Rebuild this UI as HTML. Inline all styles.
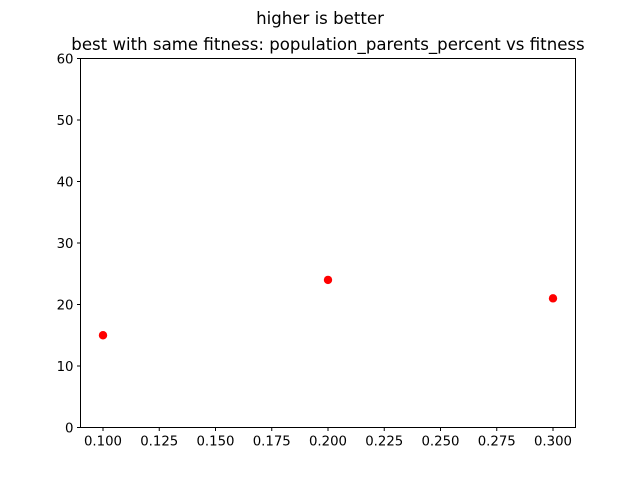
<!DOCTYPE html>
<html><head><meta charset="utf-8"><style>body{margin:0;background:#fff}svg{display:block;font-family:"DejaVu Sans","Liberation Sans",sans-serif}</style></head>
<body>
<svg id="chart" width="640" height="480">
<text x="320" y="24" text-anchor="middle" font-size="16.6">higher is better</text>
<text x="328" y="50" text-anchor="middle" font-size="16.6">best with same fitness: population_parents_percent vs fitness</text>
<g id="ticks"></g>
<g id="marks"></g>
<rect x="80.5" y="58.5" width="495" height="369" fill="none" stroke="#000" stroke-width="1"/>
</svg>
<script>
const xValues = [0.1, 0.2, 0.3];
const yValues = [15, 24, 21];
const xTicks = [0.1, 0.125, 0.15, 0.175, 0.2, 0.225, 0.25, 0.275, 0.3];
const xTickLabels = ["0.100","0.125","0.150","0.175","0.200","0.225","0.250","0.275","0.300"];
const yTicks = [0, 10, 20, 30, 40, 50, 60];
const NS = "http://www.w3.org/2000/svg";
const X0 = 80.5, X1 = 575.5, Y0 = 427.5, Y1 = 58.5;
const xMin = 0.09, xMax = 0.31, yMin = 0, yMax = 60;
const sx = v => X0 + (v - xMin) / (xMax - xMin) * (X1 - X0);
const sy = v => Y0 - (v - yMin) / (yMax - yMin) * (Y0 - Y1);
function mk(tag, attrs, parent){const e=document.createElementNS(NS,tag);for(const k in attrs)e.setAttribute(k,attrs[k]);parent.appendChild(e);return e;}
const tg = document.getElementById('ticks');
xTicks.forEach((t,i)=>{
  const l = mk('line',{x1:sx(t),x2:sx(t),y1:Y0,y2:Y0+3.5,stroke:'#000'},tg);
  
  
  const tx = mk('text',{x:sx(t),y:Y0+18,'text-anchor':'middle','font-size':'13.3'},tg);
  tx.textContent = xTickLabels[i];
  
  
});
yTicks.forEach(t=>{
  const l = mk('line',{x1:X0-3.5,x2:X0,y1:sy(t),y2:sy(t),stroke:'#000'},tg);
  
  
  const tx = mk('text',{x:X0-7,y:sy(t)+5,'text-anchor':'end','font-size':'13.3'},tg);
  tx.textContent = String(t);
  
  
});
const mg = document.getElementById('marks');
xValues.forEach((x,i)=>{
  const c = mk('circle',{cx:sx(x),cy:sy(yValues[i]),r:4.2,fill:'#ff0000'},mg);
  
  
});
</script>
</body></html>
